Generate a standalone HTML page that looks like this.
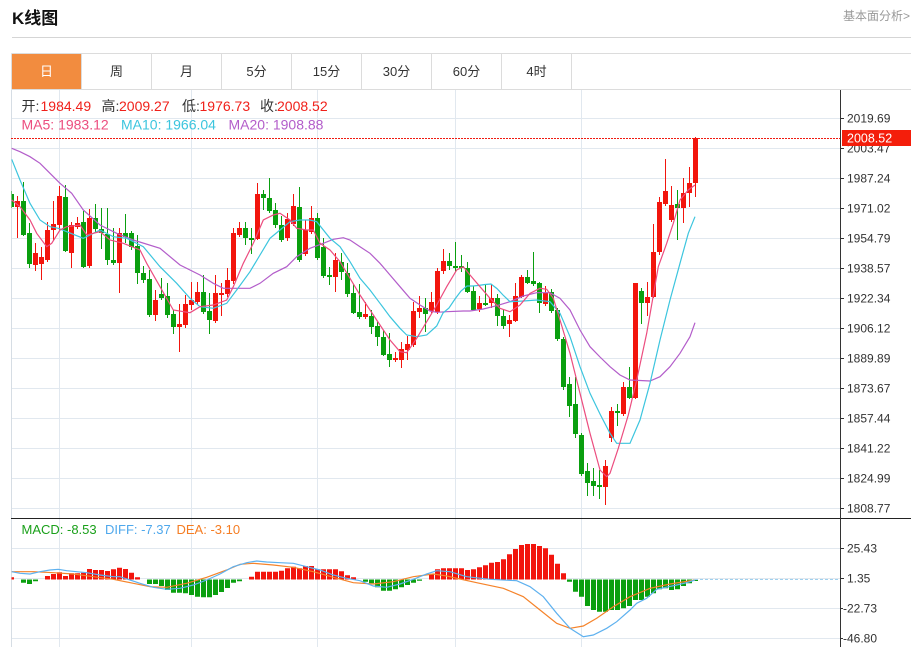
<!DOCTYPE html>
<html><head><meta charset="utf-8"><style>
html,body{margin:0;padding:0;background:#fff;width:911px;height:647px;overflow:hidden}
svg{display:block}
text{font-family:"Liberation Sans","Noto Sans CJK SC",sans-serif}
</style></head><body>
<svg width="911" height="647" viewBox="0 0 911 647" xmlns="http://www.w3.org/2000/svg">
<defs>
<clipPath id="cp"><rect x="11.5" y="89" width="828.5" height="429"/></clipPath>
<clipPath id="cm"><rect x="11.5" y="519" width="828.5" height="128"/></clipPath>
</defs>
<rect width="911" height="647" fill="#fff"/>
<!-- header -->
<text x="12" y="24" font-size="17" font-weight="bold" fill="#111">K线图</text>
<text x="843" y="20" font-size="12" fill="#999">基本面分析&gt;</text>
<path d="M12 37.5H911" stroke="#d5d5d5" stroke-width="1"/>
<!-- tabs -->
<rect x="12" y="54" width="69" height="35" fill="#f28c3f"/>
<path d="M11.5 53.5H911M11.5 89.5H911M11.5 53.5V89.5M81.5 54V89M151.5 54V89M221.5 54V89M291.5 54V89M361.5 54V89M431.5 54V89M501.5 54V89M571.5 54V89" stroke="#dcdcdc" stroke-width="1" fill="none"/>
<g font-size="13" text-anchor="middle" fill="#333">
<text x="46.5" y="76" fill="#fff">日</text>
<text x="116.5" y="76">周</text>
<text x="186.5" y="76">月</text>
<text x="256.5" y="76">5分</text>
<text x="326.5" y="76">15分</text>
<text x="396.5" y="76">30分</text>
<text x="466.5" y="76">60分</text>
<text x="536.5" y="76">4时</text>
</g>
<!-- grid -->
<path d="M11 118.5H840M11 148.5H840M11 178.5H840M11 208.5H840M11 238.5H840M11 268.5H840M11 298.5H840M11 328.5H840M11 358.5H840M11 388.5H840M11 418.5H840M11 448.5H840M11 478.5H840M11 508.5H840M11 548.5H840M11 578.5H840M11 608.5H840M11 638.5H840M59.5 90V647M191.5 90V647M317.5 90V647M455.5 90V647M581.5 90V647" stroke="#e1e8ef" stroke-width="1" fill="none"/>
<path d="M11.5 90V647" stroke="#d6dde4" stroke-width="1"/>
<!-- info text -->
<g font-size="14">
<text x="21.5" y="111" fill="#333">开:</text><text x="40.5" y="111" fill="#f0201a">1984.49</text>
<text x="101.5" y="111" fill="#333">高:</text><text x="119" y="111" fill="#f0201a">2009.27</text>
<text x="182" y="111" fill="#333">低:</text><text x="199.5" y="111" fill="#f0201a">1976.73</text>
<text x="260" y="111" fill="#333">收:</text><text x="277" y="111" fill="#f0201a">2008.52</text>
<text x="21.5" y="129.5" fill="#ec4d7f">MA5: 1983.12</text>
<text x="121" y="129.5" fill="#3cc5de">MA10: 1966.04</text>
<text x="228.5" y="129.5" fill="#b35dca">MA20: 1908.88</text>
</g>
<!-- price dotted line -->
<path d="M11 138.5H840" stroke="#f01a10" stroke-width="1" stroke-dasharray="2,1"/>
<g clip-path="url(#cp)">
<path fill="#f2150d" d="M15 201h5V207h-5zM33 253h5V265h-5zM39 257h5V264h-5zM45 230h5V260h-5zM51 224h5V230h-5zM57 196h5V225h-5zM69 225h5V253h-5zM75 223h5V227h-5zM87 218h5V266h-5zM117 233h5V263h-5zM153 300h5V315h-5zM177 324h5V327h-5zM183 304h5V325h-5zM189 300h5V305h-5zM195 292h5V302h-5zM213 293h5V321h-5zM219 293h5V295h-5zM225 280h5V294h-5zM231 233h5V281h-5zM237 228h5V235h-5zM255 194h5V239h-5zM285 219h5V238h-5zM291 206h5V224h-5zM303 230h5V254h-5zM309 218h5V232h-5zM333 260h5V277h-5zM363 314h5V317h-5zM393 358h5V360h-5zM399 349h5V360h-5zM405 344h5V350h-5zM411 311h5V345h-5zM417 308h5V312h-5zM429 302h5V311h-5zM435 271h5V312h-5zM441 261h5V271h-5zM477 303h5V309h-5zM489 298h5V303h-5zM507 320h5V324h-5zM513 296h5V321h-5zM519 277h5V297h-5zM543 293h5V304h-5zM603 466h5V487h-5zM609 411h5V438h-5zM621 387h5V414h-5zM633 283h5V398h-5zM645 297h5V303h-5zM651 252h5V297h-5zM657 202h5V252h-5zM663 191h5V204h-5zM669 205h5V220h-5zM681 193h5V208h-5zM687 183h5V193h-5zM693 138h5V183h-5z"/>
<path fill="none" stroke="#f2150d" stroke-width="1" d="M17.5 196V238M35.5 243V271M41.5 247V280M47.5 222V262M53.5 201V240M59.5 186V230M71.5 222V268M77.5 217V229M89.5 209V268M119.5 228V293M155.5 290V321M179.5 304V352M185.5 295V328M191.5 282V310M197.5 282V305M215.5 275V323M221.5 283V316M227.5 268V297M233.5 228V284M239.5 222V237M257.5 183V240M287.5 213V241M293.5 194V226M305.5 220V256M311.5 206V234M335.5 253V292M365.5 302V319M395.5 352V362M401.5 342V368M407.5 336V360M413.5 302V347M419.5 296V318M431.5 292V313M437.5 268V314M443.5 249V274M479.5 296V312M491.5 284V308M509.5 315V337M515.5 283V322M521.5 275V298M545.5 286V306M605.5 460V505M611.5 407V442M623.5 382V416M635.5 283V399M647.5 282V316M653.5 224V298M659.5 197V255M665.5 159V206M671.5 186V222M683.5 178V223M689.5 167V207M695.5 137V197"/>
<path fill="#0a9f0f" d="M9 194h5V207h-5zM21 201h5V235h-5zM27 233h5V264h-5zM63 197h5V251h-5zM81 222h5V267h-5zM93 218h5V229h-5zM99 229h5V233h-5zM105 234h5V260h-5zM111 260h5V263h-5zM123 233h5V237h-5zM129 233h5V247h-5zM135 246h5V273h-5zM141 273h5V280h-5zM147 279h5V315h-5zM159 294h5V298h-5zM165 296h5V315h-5zM171 314h5V327h-5zM201 292h5V312h-5zM207 311h5V320h-5zM243 228h5V238h-5zM249 238h5V240h-5zM261 194h5V198h-5zM267 198h5V211h-5zM273 210h5V225h-5zM279 225h5V240h-5zM297 207h5V260h-5zM315 218h5V258h-5zM321 247h5V276h-5zM327 275h5V277h-5zM339 262h5V272h-5zM345 273h5V294h-5zM351 293h5V313h-5zM357 312h5V317h-5zM369 316h5V327h-5zM375 326h5V337h-5zM381 337h5V355h-5zM387 354h5V360h-5zM423 308h5V314h-5zM447 261h5V266h-5zM453 266h5V268h-5zM459 266h5V268h-5zM465 268h5V292h-5zM471 291h5V310h-5zM483 303h5V305h-5zM495 298h5V316h-5zM501 316h5V326h-5zM525 277h5V283h-5zM531 281h5V284h-5zM537 283h5V303h-5zM549 292h5V311h-5zM555 310h5V339h-5zM561 339h5V387h-5zM567 384h5V406h-5zM573 404h5V434h-5zM579 435h5V474h-5zM585 471h5V483h-5zM591 481h5V486h-5zM597 485h5V487h-5zM615 411h5V413h-5zM627 387h5V398h-5zM639 291h5V303h-5zM675 204h5V208h-5z"/>
<path fill="none" stroke="#0a9f0f" stroke-width="1" d="M11.5 191V208M23.5 182V236M29.5 223V268M65.5 185V252M83.5 211V268M95.5 204V232M101.5 208V249M107.5 208V265M113.5 228V265M125.5 214V243M131.5 231V250M137.5 235V284M143.5 266V283M149.5 270V317M161.5 278V300M167.5 283V318M173.5 310V334M203.5 275V314M209.5 293V334M245.5 222V245M251.5 228V254M263.5 190V210M269.5 178V213M275.5 203V228M281.5 216V242M299.5 187V262M317.5 213V260M323.5 238V278M329.5 267V285M341.5 253V280M347.5 263V297M353.5 284V314M359.5 284V319M371.5 310V334M377.5 322V346M383.5 330V356M389.5 333V367M425.5 298V332M449.5 253V270M455.5 242V272M461.5 255V272M467.5 262V293M473.5 286V311M485.5 284V306M497.5 294V326M503.5 310V329M527.5 270V284M533.5 252V286M539.5 282V313M551.5 289V313M557.5 308V341M563.5 337V390M569.5 377V417M575.5 377V438M581.5 433V476M587.5 463V496M593.5 468V496M599.5 470V499M617.5 404V426M629.5 367V399M641.5 288V324M677.5 190V240"/>
<!-- MA lines -->
<polyline fill="none" stroke="#b35dca" stroke-width="1.2" points="11.7,148.3 20,151.7 30,156.7 40,163.3 50,173.3 60,183.3 71.7,193.3 83.3,210 100,225 116.7,233.3 133.3,240 160,248.3 180,265 200,275 213.3,283.3 223.3,288.3 233.3,288.3 250,288.3 260,283.3 273.3,273.3 286.7,266.7 296.7,256.7 310,248.3 323.3,243.3 333.3,239.3 343.3,237.7 350,240 360,246.7 370,253.3 380,263.3 390,275 400,286.7 410,298.3 420,305 430,311 436.7,312.3 446.7,311.7 463.3,311 470,311 483.3,309 496.7,305.7 510,301.7 523.3,296 536.7,292.7 550,292.7 560,298.3 570,310 580,330 590,346.7 600,357 610,366.7 620,375 630,380 650,381 660,376.7 670,366.7 680,353.3 690,336.7 695,322.7"/>
<polyline fill="none" stroke="#3cc5de" stroke-width="1.2" points="11.7,159.3 20,180 30,203.3 40,220 50,226.7 58.3,228.3 66.7,231.7 83.3,238.3 100,230 113.3,236.7 126.7,238.3 143.3,246.7 160,266.7 176.7,283.3 190,298.3 200,306.7 213.3,308.3 226.7,303.3 236.7,290 250,271.7 260,255 270,238.3 280,230 290,221.7 300,220 310,220 316.7,221.7 330,238.3 340,246.7 350,261.7 360,278.3 370,290 380,303.3 390,316.7 400,328.3 406.7,335 416.7,336.7 426.7,335 436.7,326 443,313 449,308 455,299 461,291 467,286 473,286 479,285.4 485,284.5 491,284 497,288.6 503,295 510,301.7 523.3,301 536.7,300 550,301.7 560,313.3 570,336.7 580,366.7 590,393.3 600,414 610,433.3 616.7,443.3 630,443.3 640,420 650,383.3 660,340 670,300 680,263.3 688.3,233.3 695,216.7"/>
<polyline fill="none" stroke="#ec4d7f" stroke-width="1.2" points="11.7,200 20,206.7 30,220 36.7,233.3 46.7,246.7 51.7,243.3 60,230 66.7,226.7 80,225 86.7,235 100,231.7 110,240 123.3,243.3 140,250 146.7,263.3 160,286.7 173.3,310 190,312.7 200,306.7 213.3,305 226.7,300 233.3,286.7 243.3,263.3 253.3,243.3 263.3,220 273.3,215 280,213.3 290,220 296.7,228.3 306.7,230 313.3,230 320,243.3 330,250 340,261.7 350,278.3 360,295 370,310 380,325 390,340 400,351.7 406.7,352.7 416.7,338.3 426.7,321.7 436.7,305 446.7,286.7 456.7,270 463.3,266.7 470,275 480,286.7 490,298.3 500,308.3 510,311.7 520,305 530,293.3 540,288.3 546.7,289.3 553.3,298.3 560,320 570,353.3 580,393.3 590,433.3 600,470 606.7,476.7 610,473.3 618.3,448.3 628.3,415 636.7,380 646.7,333.3 658.3,266.7 666.7,243.3 673.3,223.3 680,200 688.3,190 695,185"/>
</g>
<!-- MACD -->
<text x="21.5" y="534" font-size="13" fill="#1aa01a">MACD: -8.53</text>
<text x="105" y="534" font-size="13" fill="#4fa8ec">DIFF: -7.37</text>
<text x="176.5" y="534" font-size="13" fill="#f57d23">DEA: -3.10</text>
<g clip-path="url(#cm)">
<path fill="#f2150d" d="M9 577.3h5V579.5h-5zM45 576h5V579.5h-5zM51 574h5V579.5h-5zM57 572.3h5V579.5h-5zM63 576h5V579.5h-5zM69 573.3h5V579.5h-5zM75 573.3h5V579.5h-5zM81 572.7h5V579.5h-5zM87 569h5V579.5h-5zM93 570h5V579.5h-5zM99 570h5V579.5h-5zM105 571h5V579.5h-5zM111 569.3h5V579.5h-5zM117 567.7h5V579.5h-5zM123 569h5V579.5h-5zM129 572.7h5V579.5h-5zM135 577.3h5V579.5h-5zM249 576.7h5V579.5h-5zM255 571.7h5V579.5h-5zM261 571.7h5V579.5h-5zM267 571.7h5V579.5h-5zM273 571.7h5V579.5h-5zM279 570.7h5V579.5h-5zM285 568.3h5V579.5h-5zM291 566.7h5V579.5h-5zM297 568.3h5V579.5h-5zM303 566h5V579.5h-5zM309 566h5V579.5h-5zM315 569.3h5V579.5h-5zM321 569.3h5V579.5h-5zM327 569.3h5V579.5h-5zM333 569.3h5V579.5h-5zM339 571.3h5V579.5h-5zM345 575.3h5V579.5h-5zM351 577.3h5V579.5h-5zM429 574h5V579.5h-5zM435 569.3h5V579.5h-5zM441 568.3h5V579.5h-5zM447 568.3h5V579.5h-5zM453 568.3h5V579.5h-5zM459 568.3h5V579.5h-5zM465 570h5V579.5h-5zM471 569.3h5V579.5h-5zM477 567.3h5V579.5h-5zM483 565.3h5V579.5h-5zM489 562.7h5V579.5h-5zM495 562h5V579.5h-5zM501 559.3h5V579.5h-5zM507 554.3h5V579.5h-5zM513 549h5V579.5h-5zM519 545h5V579.5h-5zM525 544h5V579.5h-5zM531 544h5V579.5h-5zM537 546h5V579.5h-5zM543 548.3h5V579.5h-5zM549 554.7h5V579.5h-5zM555 563.7h5V579.5h-5zM561 573.3h5V579.5h-5z"/>
<path fill="#0a9f0f" d="M21 579.5h5V582.7h-5zM27 579.5h5V584h-5zM33 579.5h5V581.3h-5zM147 579.5h5V584h-5zM153 579.5h5V584h-5zM159 579.5h5V586h-5zM165 579.5h5V590h-5zM171 579.5h5V592.7h-5zM177 579.5h5V592.7h-5zM183 579.5h5V593.3h-5zM189 579.5h5V595h-5zM195 579.5h5V596.7h-5zM201 579.5h5V597.3h-5zM207 579.5h5V597.3h-5zM213 579.5h5V595h-5zM219 579.5h5V592h-5zM225 579.5h5V588h-5zM231 579.5h5V582.7h-5zM237 579.5h5V581.3h-5zM363 579.5h5V581.7h-5zM369 579.5h5V583.3h-5zM375 579.5h5V587.3h-5zM381 579.5h5V590.7h-5zM387 579.5h5V590.7h-5zM393 579.5h5V589.3h-5zM399 579.5h5V587.3h-5zM405 579.5h5V585h-5zM411 579.5h5V582.7h-5zM417 579.5h5V580.7h-5zM567 579.5h5V581.7h-5zM573 579.5h5V591.7h-5zM579 579.5h5V596.7h-5zM585 579.5h5V606h-5zM591 579.5h5V610h-5zM597 579.5h5V611.7h-5zM603 579.5h5V611.7h-5zM609 579.5h5V610h-5zM615 579.5h5V610h-5zM621 579.5h5V608.3h-5zM627 579.5h5V606h-5zM633 579.5h5V600h-5zM639 579.5h5V600h-5zM645 579.5h5V596.7h-5zM651 579.5h5V593.3h-5zM657 579.5h5V589.3h-5zM663 579.5h5V588.3h-5zM669 579.5h5V590h-5zM675 579.5h5V589.3h-5zM681 579.5h5V586h-5zM687 579.5h5V583.3h-5zM693 579.5h5V581h-5z"/>
<polyline fill="none" stroke="#f5832a" stroke-width="1.2" points="11.7,571.7 33.3,571.7 53.3,572.7 73.3,574 93.3,576.7 113.3,579.3 133.3,583.3 150,586.7 166.7,587.3 186.7,583.3 206.7,577.3 226.7,570 240,564.3 253.3,563.3 273.3,565 293.3,567.3 313.3,571.7 333.3,577.3 353.3,582.7 373.3,584 393.3,581.7 413.3,576.7 433.3,574 446.7,576 460,579 476.7,582.7 503.3,588.3 523.3,596.7 540,610 556.7,623.3 570,628.3 583.3,626 596.7,618.3 613.3,606.7 630,596.7 650,588.3 670,584 695,580"/>
<polyline fill="none" stroke="#5eb1ef" stroke-width="1.2" points="11.7,571.7 20,573.3 30,574 40,571.7 50,570 58.3,569.3 66.7,570.7 76.7,571.7 86.7,572.7 100,575 113.3,576.7 120,576.7 130,580 140,583.3 153.3,587.3 166.7,589.3 180,588.3 193.3,585 206.7,580 220,574 233.3,566.7 246.7,562.7 256.7,561 266.7,562 280,562.7 293.3,563.3 306.7,566.7 320,570 333.3,575 346.7,578.3 360,580.7 373.3,586 386.7,587.3 400,584 413.3,579.3 426.7,574 436.7,570.7 450,571.7 466.7,576.7 490,579.3 516.7,580.7 530,586.7 543.3,596.7 556.7,613.3 570,628.3 583.3,636.7 593.3,635 606.7,628.3 616.7,621.7 630,610 636.7,603.3 646.7,598.3 656.7,589.3 676.7,585 686.7,582.7 695,580"/>
<path d="M695 579.5H840" stroke="#9fd0ee" stroke-width="1" stroke-dasharray="3,2"/>
</g>
<!-- separators / axes -->
<path d="M11 518.5H911" stroke="#222" stroke-width="1"/>
<path d="M840.5 90V647" stroke="#333" stroke-width="1"/>
<path d="M840 118.5h4M840 148.5h4M840 178.5h4M840 208.5h4M840 238.5h4M840 268.5h4M840 298.5h4M840 328.5h4M840 358.5h4M840 388.5h4M840 418.5h4M840 448.5h4M840 478.5h4M840 508.5h4M840 548.5h4M840 578.5h4M840 608.5h3M840 638.5h3" stroke="#333" stroke-width="1"/>
<g font-size="12" fill="#333">
<text x="847" y="122.5">2019.69</text>
<text x="847" y="152.5">2003.47</text>
<text x="847" y="182.5">1987.24</text>
<text x="847" y="212.5">1971.02</text>
<text x="847" y="242.5">1954.79</text>
<text x="847" y="272.5">1938.57</text>
<text x="847" y="302.5">1922.34</text>
<text x="847" y="332.5">1906.12</text>
<text x="847" y="362.5">1889.89</text>
<text x="847" y="392.5">1873.67</text>
<text x="847" y="422.5">1857.44</text>
<text x="847" y="452.5">1841.22</text>
<text x="847" y="482.5">1824.99</text>
<text x="847" y="512.5">1808.77</text>
<text x="847" y="552.5">25.43</text>
<text x="847" y="582.5">1.35</text>
<text x="843" y="612.5">-22.73</text>
<text x="843" y="642.5">-46.80</text>
</g>
<rect x="842" y="130" width="69" height="16" fill="#f41e0b"/>
<text x="847" y="142.5" font-size="12.5" fill="#fff">2008.52</text>
</svg>
</body></html>
